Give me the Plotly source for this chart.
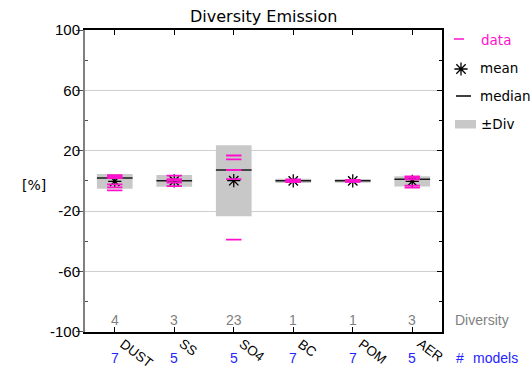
import plotly.graph_objects as go
import numpy as np

# ---- chart content -------------------------------------------------------
title_text = "Diversity Emission"
species = ["DUST", "SS", "SO4", "BC", "POM", "AER"]

# per-model relative deviations [%] for each species
data_dust = [3.8, 2.9, 2.3, 1.9, -2.4, -4.3, -6.3]
data_ss = [3.4, 1.2, 0.1, -1.2, -3.5]
data_so4 = [16.8, 14.2, 7.2, 1.2, -38.9]
data_bc = [0.9, 0.6, 0.3, 0.0, -0.3, -0.6, -0.9]
data_pom = [0.7, 0.5, 0.2, 0.0, -0.2, -0.5, -0.7]
data_aer = [3.0, 2.2, 1.0, -3.2, -4.5]

# diversity (half height of the grey box) [%]
diversity = [4.9, 3.9, 23.5, 1.4, 1.2, 3.4]

y_tickvals = [-100, -60, -20, 20, 60, 100]
y_minorvals = [-80, -40, 0, 40, 80]

# ---- derived quantities --------------------------------------------------
all_data = [data_dust, data_ss, data_so4, data_bc, data_pom, data_aer]
xpos = list(range(1, len(species) + 1))
means = [float(np.mean(d)) for d in all_data]
medians = [float(np.median(d)) for d in all_data]
n_models = [len(d) for d in all_data]
div_labels = [str(int(d)) for d in diversity]

# ---- colours / fonts -----------------------------------------------------
MAGENTA = "#ff10cc"
GREY_BOX = "#c8c8c8"
GRID = "#cfcfcf"
BLUE = "#2424ff"
GREY_TXT = "#7f7f7f"
F_TICK = "Liberation Sans, Arial, sans-serif"
F_TXT = "DejaVu Sans, sans-serif"

# ---- page geometry (paper spans the whole page) --------------------------
W, H = 531, 370
PL, PR, PT, PB = 85, 442, 30, 331.7   # plotting area edges in px
XR = [0.5, 6.5]
YR = [-100, 100]


def px_x(px):
    return px / W


def px_y(py):
    return 1 - py / H


MEAN_MARKER = dict(symbol="asterisk-open", size=11, color="black",
                   line=dict(color="black", width=1.3))

fig = go.Figure()

# grey +/- diversity boxes around the mean
fig.add_trace(go.Bar(
    x=xpos, y=[2 * d for d in diversity],
    base=[m - d for m, d in zip(means, diversity)],
    width=0.6, marker=dict(color=GREY_BOX, line=dict(width=0)),
    showlegend=False, hoverinfo="skip",
))

# median lines across each box
mx, my = [], []
for x, m in zip(xpos, medians):
    mx += [x - 0.3, x + 0.3, None]
    my += [m, m, None]
fig.add_trace(go.Scatter(
    x=mx, y=my, mode="lines", line=dict(color="#1a1a1a", width=1.5),
    showlegend=False, hoverinfo="skip",
))

# mean (asterisk)
fig.add_trace(go.Scatter(
    x=xpos, y=means, mode="markers", marker=MEAN_MARKER,
    showlegend=False, hoverinfo="skip",
))

# individual model values (short magenta dashes)
dx, dy = [], []
for x, d in zip(xpos, all_data):
    dx += [x] * len(d)
    dy += list(d)
fig.add_trace(go.Scatter(
    x=dx, y=dy, mode="markers",
    marker=dict(symbol="line-ew", size=11, color=MAGENTA,
                line=dict(color=MAGENTA, width=1.8)),
    showlegend=False, hoverinfo="skip",
))

# legend star on its own small hidden axes in the right margin
fig.add_trace(go.Scatter(
    x=[0.5], y=[0.5], xaxis="x2", yaxis="y3", mode="markers",
    marker=MEAN_MARKER, showlegend=False, hoverinfo="skip",
))

# invisible trace so the mirrored right-hand axis is drawn
fig.add_trace(go.Scatter(x=[None], y=[None], yaxis="y2",
                         showlegend=False, hoverinfo="skip"))

shapes = [
    dict(type="line", xref="paper", yref="paper",
         x0=px_x(454), x1=px_x(464), y0=px_y(39), y1=px_y(39),
         line=dict(color=MAGENTA, width=1.5)),
    dict(type="line", xref="paper", yref="paper",
         x0=px_x(456), x1=px_x(471), y0=px_y(96), y1=px_y(96),
         line=dict(color="black", width=1.5)),
    dict(type="rect", xref="paper", yref="paper",
         x0=px_x(455), x1=px_x(476), y0=px_y(128.5), y1=px_y(120),
         fillcolor=GREY_BOX, line=dict(width=0)),
]

ann = []


def text(px, py, s, color="black", size=14, family=F_TXT, xanchor="left",
         yanchor="middle"):
    ann.append(dict(xref="paper", yref="paper", x=px_x(px), y=px_y(py),
                    text=s, showarrow=False, xanchor=xanchor,
                    yanchor=yanchor, borderpad=0,
                    font=dict(color=color, size=size, family=family)))


text(263.5, 17, title_text, size=16, xanchor="center")
text(34, 185, "[%]", size=14, xanchor="center")
text(480, 40, "data", color=MAGENTA, size=13.5)
text(479, 68, "mean", size=13.5)
text(479, 96, "median", size=13.5)
text(480, 124, "±Div", size=13.5)
text(454, 320, "Diversity", color=GREY_TXT, size=14, family=F_TICK)
text(455, 358, "#", color=BLUE, size=14, family=F_TICK)
text(472, 358, "models", color=BLUE, size=14, family=F_TICK)

for x, lab, dl, nm in zip(xpos, species, div_labels, n_models):
    ann.append(dict(xref="x", yref="paper", x=x, y=px_y(320), text=dl,
                    showarrow=False, xanchor="center", yanchor="middle",
                    font=dict(color=GREY_TXT, size=14, family=F_TICK)))
    ann.append(dict(xref="x", yref="paper", x=x, y=px_y(358), text=str(nm),
                    showarrow=False, xanchor="center", yanchor="middle",
                    font=dict(color=BLUE, size=14, family=F_TICK)))
    ann.append(dict(xref="x", yref="paper", x=x, xshift=1, y=px_y(335),
                    text=lab, showarrow=False, textangle=37,
                    xanchor="left", yanchor="top", borderpad=0,
                    font=dict(color="black", size=13.5, family=F_TICK)))

hidden = dict(visible=False, showgrid=False, zeroline=False)

fig.update_layout(
    width=W, height=H,
    margin=dict(l=0, r=0, t=0, b=0, pad=0, autoexpand=False),
    paper_bgcolor="white", plot_bgcolor="white",
    showlegend=False, hovermode=False,
    shapes=shapes, annotations=ann,
    xaxis=dict(domain=[px_x(PL), px_x(PR)], range=XR, tickvals=xpos,
               showticklabels=False, anchor="y", automargin=False,
               ticks="inside", ticklen=5, tickwidth=1.2, tickcolor="black",
               showline=True, linecolor="black", linewidth=1.5,
               mirror="ticks", showgrid=False, zeroline=False),
    yaxis=dict(domain=[px_y(PB), px_y(PT)], range=YR, anchor="x",
               automargin=False,
               tickvals=y_tickvals,
               ticktext=[str(v) for v in y_tickvals],
               ticks="outside", ticklen=7, tickwidth=1.2,
               tickcolor="#505050", ticklabelstandoff=-7,
               tickfont=dict(size=15, family=F_TICK, color="black"),
               showline=True, linecolor="#808080", linewidth=2,
               showgrid=True, gridcolor=GRID, gridwidth=1, zeroline=False,
               minor=dict(tickvals=y_minorvals, ticks="inside", ticklen=3,
                          tickcolor="#505050", showgrid=False)),
    yaxis2=dict(range=YR, overlaying="y", side="right", anchor="x",
                automargin=False,
                tickvals=y_tickvals, showticklabels=False,
                ticks="inside", ticklen=5, tickcolor="black",
                showline=True, linecolor="black", linewidth=1.5,
                showgrid=False, zeroline=False,
                minor=dict(tickvals=y_minorvals, ticks="inside", ticklen=3,
                           tickcolor="black", showgrid=False)),
    xaxis2=dict(domain=[px_x(451), px_x(471)], range=[0, 1], anchor="y3",
                automargin=False, **hidden),
    yaxis3=dict(domain=[px_y(79), px_y(59)], range=[0, 1], anchor="x2",
                automargin=False, **hidden),
)

fig.write_html("out.html")
